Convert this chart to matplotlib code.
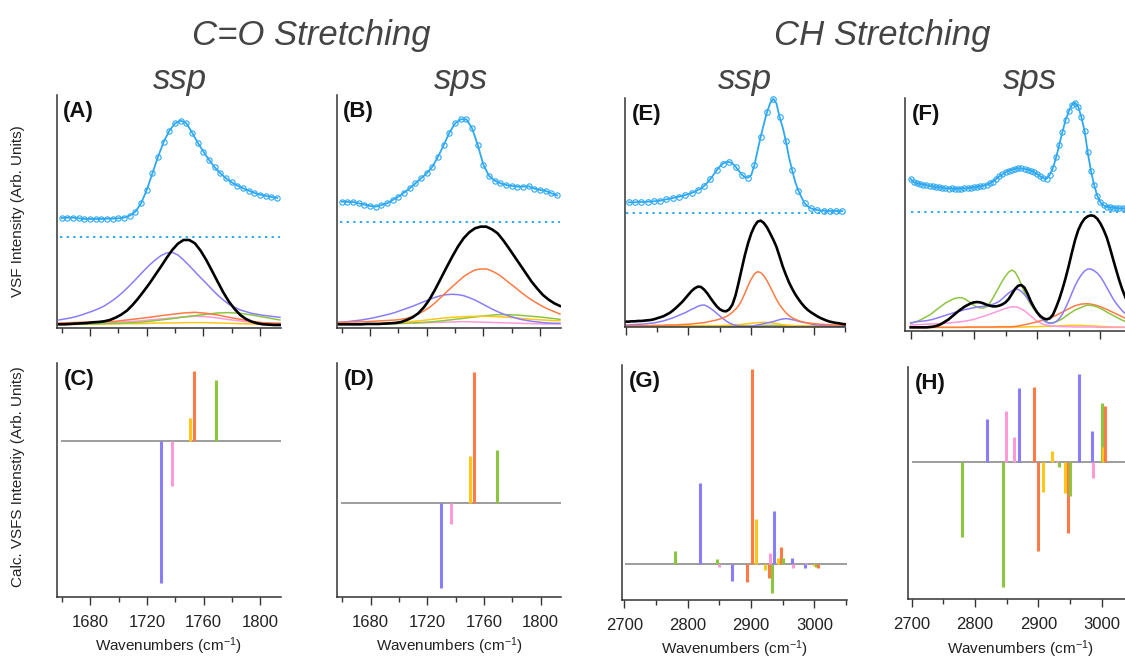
import numpy as np
import matplotlib
matplotlib.use("Agg")
import matplotlib.pyplot as plt

plt.rcParams['font.family'] = ['Liberation Sans', 'DejaVu Sans']
plt.rcParams['mathtext.fontset'] = 'custom'
plt.rcParams['mathtext.rm'] = 'Liberation Sans'
plt.rcParams['mathtext.it'] = 'Liberation Sans:italic'

# ---------------- data (arbitrary units) ----------------
# C=O region, experimental spectra (every 4 cm-1 from 1660 to 1812)
co_data_x = np.arange(1660, 1813, 4)
A_data = [3.31, 3.32, 3.32, 3.30, 3.28, 3.28, 3.28, 3.28, 3.29, 3.29, 3.30, 3.32, 3.38, 3.50,
          3.75, 4.15, 4.65, 5.15, 5.60, 5.93, 6.15, 6.23, 6.15, 5.87, 5.57, 5.30, 5.05, 4.83,
          4.65, 4.50, 4.38, 4.28, 4.20, 4.13, 4.06, 4.01, 3.97, 3.94, 3.91]
B_data = [3.80, 3.79, 3.79, 3.75, 3.71, 3.67, 3.65, 3.70, 3.75, 3.85, 3.95, 4.07, 4.20, 4.35,
          4.50, 4.65, 4.85, 5.15, 5.50, 5.87, 6.15, 6.27, 6.27, 6.00, 5.50, 4.90, 4.57, 4.43,
          4.35, 4.30, 4.27, 4.25, 4.25, 4.26, 4.19, 4.15, 4.12, 4.05, 3.99]
A_offset = 2.75
B_offset = 3.20

# C=O region, fitted components
co_fine_x = np.arange(1658, 1815, 4)          # 40 points
co_comp_x = [1658, 1666, 1674, 1682, 1690, 1698, 1706, 1714, 1722, 1730, 1738, 1746, 1754,
             1762, 1770, 1778, 1786, 1794, 1802, 1810, 1814]
A_black = [0.12, 0.12, 0.13, 0.14, 0.15, 0.16, 0.18, 0.19, 0.21, 0.25, 0.32, 0.41, 0.53, 0.70,
           0.90, 1.12, 1.35, 1.60, 1.85, 2.11, 2.35, 2.54, 2.65, 2.65, 2.55, 2.33, 2.05, 1.73,
           1.40, 1.08, 0.80, 0.58, 0.40, 0.28, 0.20, 0.15, 0.12, 0.11, 0.10, 0.10]
A_purple = [0.25, 0.28, 0.31, 0.35, 0.40, 0.46, 0.52, 0.59, 0.67, 0.78, 0.90, 1.04, 1.20, 1.37,
            1.55, 1.73, 1.90, 2.05, 2.18, 2.26, 2.28, 2.20, 2.05, 1.88, 1.70, 1.52, 1.35, 1.17,
            1.00, 0.85, 0.72, 0.63, 0.55, 0.50, 0.45, 0.42, 0.39, 0.37, 0.35, 0.33]
A_orange = [0.16, 0.17, 0.18, 0.19, 0.20, 0.21, 0.25, 0.29, 0.33, 0.38, 0.42, 0.46, 0.48, 0.45,
            0.40, 0.33, 0.27, 0.21, 0.17, 0.15, 0.15]
A_pink = [0.14, 0.15, 0.15, 0.16, 0.17, 0.18, 0.20, 0.22, 0.25, 0.28, 0.31, 0.34, 0.36, 0.35,
          0.31, 0.26, 0.22, 0.18, 0.16, 0.15, 0.15]
A_green = [0.12, 0.12, 0.13, 0.13, 0.14, 0.15, 0.16, 0.18, 0.21, 0.25, 0.29, 0.34, 0.38, 0.42,
           0.46, 0.47, 0.45, 0.40, 0.34, 0.28, 0.25]
A_yellow = [0.12, 0.12, 0.12, 0.12, 0.13, 0.13, 0.14, 0.14, 0.15, 0.16, 0.16, 0.17, 0.17, 0.17,
            0.16, 0.15, 0.14, 0.13, 0.13, 0.12, 0.12]

B_black = [0.12, 0.12, 0.12, 0.12, 0.12, 0.13, 0.13, 0.13, 0.14, 0.15, 0.16, 0.19, 0.25, 0.33,
           0.45, 0.63, 0.87, 1.17, 1.50, 1.83, 2.15, 2.45, 2.70, 2.88, 3.00, 3.05, 3.05, 2.97,
           2.85, 2.64, 2.40, 2.15, 1.90, 1.65, 1.40, 1.19, 1.00, 0.86, 0.75, 0.67]
B_orange = [0.18, 0.18, 0.19, 0.19, 0.20, 0.20, 0.21, 0.22, 0.23, 0.24, 0.25, 0.27, 0.30, 0.36,
            0.43, 0.52, 0.63, 0.77, 0.93, 1.09, 1.25, 1.40, 1.55, 1.66, 1.75, 1.78, 1.78, 1.72,
            1.63, 1.51, 1.37, 1.24, 1.10, 0.97, 0.85, 0.75, 0.65, 0.57, 0.50, 0.43]
B_purple = [0.18, 0.19, 0.21, 0.23, 0.25, 0.28, 0.31, 0.35, 0.39, 0.43, 0.48, 0.54, 0.60, 0.66,
            0.73, 0.80, 0.87, 0.93, 0.98, 1.01, 1.02, 1.01, 0.98, 0.92, 0.85, 0.76, 0.67, 0.58,
            0.50, 0.43, 0.37, 0.32, 0.27, 0.24, 0.21, 0.19, 0.17, 0.16, 0.15, 0.15]
B_yellow = [0.13, 0.13, 0.14, 0.14, 0.15, 0.17, 0.19, 0.22, 0.26, 0.30, 0.33, 0.35, 0.36, 0.36,
            0.35, 0.33, 0.30, 0.27, 0.25, 0.23, 0.23]
B_green = [0.12, 0.12, 0.12, 0.13, 0.13, 0.14, 0.15, 0.17, 0.19, 0.22, 0.26, 0.30, 0.34, 0.38,
           0.41, 0.41, 0.39, 0.36, 0.33, 0.29, 0.27]
B_pink = [0.12, 0.12, 0.13, 0.13, 0.14, 0.15, 0.15, 0.16, 0.17, 0.18, 0.19, 0.20, 0.19, 0.18,
          0.17, 0.16, 0.15, 0.14, 0.13, 0.13, 0.13]

# CH region, experimental spectra
E_data_x = np.arange(2705, 3046, 5)
E_data = [3.75, 3.75, 3.75, 3.76, 3.76, 3.76, 3.77, 3.77, 3.78, 3.79, 3.80, 3.82, 3.84, 3.86,
          3.88, 3.90, 3.92, 3.94, 3.97, 4.00, 4.03, 4.07, 4.12, 4.17, 4.24, 4.34, 4.45, 4.58,
          4.71, 4.83, 4.91, 4.96, 4.96, 4.92, 4.82, 4.70, 4.58, 4.50, 4.49, 4.57, 4.86, 5.30,
          5.72, 6.10, 6.45, 6.72, 6.86, 6.72, 6.32, 6.00, 5.60, 5.10, 4.72, 4.36, 4.10, 3.90,
          3.72, 3.63, 3.57, 3.54, 3.52, 3.50, 3.50, 3.49, 3.49, 3.49, 3.49, 3.49, 3.49]
F_data_x = np.arange(2700, 3051, 5)
F_data = [4.55, 4.45, 4.42, 4.40, 4.38, 4.37, 4.34, 4.33, 4.30, 4.31, 4.28, 4.27, 4.26, 4.27,
          4.25, 4.26, 4.26, 4.27, 4.28, 4.28, 4.30, 4.31, 4.33, 4.35, 4.37, 4.42, 4.47, 4.55,
          4.63, 4.69, 4.75, 4.80, 4.83, 4.86, 4.87, 4.87, 4.85, 4.83, 4.80, 4.76, 4.70, 4.63,
          4.57, 4.56, 4.68, 4.88, 5.20, 5.58, 5.96, 6.32, 6.58, 6.77, 6.84, 6.72, 6.40, 6.00,
          5.35, 4.80, 4.38, 4.05, 3.85, 3.76, 3.72, 3.70, 3.69, 3.68, 3.67, 3.67, 3.67, 3.67, 3.67]
E_offset = 3.44
F_offset = 3.57

# CH region, fitted components
ch_fine_x = np.arange(2700, 3051, 5)          # 71 points
ch_comp_x = np.arange(2700, 3051, 10)         # 36 points
E_black = [0.17, 0.17, 0.18, 0.18, 0.19, 0.19, 0.20, 0.21, 0.22, 0.24, 0.27, 0.30, 0.33, 0.38,
           0.43, 0.50, 0.58, 0.67, 0.76, 0.87, 0.98, 1.09, 1.17, 1.22, 1.21, 1.13, 1.02, 0.88,
           0.75, 0.63, 0.54, 0.49, 0.48, 0.54, 0.68, 0.96, 1.35, 1.77, 2.18, 2.53, 2.82, 3.03,
           3.17, 3.20, 3.13, 3.00, 2.82, 2.63, 2.42, 2.13, 1.83, 1.58, 1.35, 1.16, 0.99, 0.85,
           0.72, 0.61, 0.52, 0.45, 0.39, 0.33, 0.28, 0.24, 0.20, 0.17, 0.15, 0.13, 0.12, 0.10, 0.09]
E_purple = [0.07, 0.07, 0.08, 0.08, 0.09, 0.09, 0.10, 0.11, 0.12, 0.13, 0.15, 0.17, 0.19, 0.22,
            0.25, 0.28, 0.32, 0.36, 0.40, 0.44, 0.49, 0.54, 0.58, 0.63, 0.66, 0.67, 0.63, 0.57,
            0.50, 0.42, 0.34, 0.26, 0.19, 0.13, 0.09, 0.06, 0.04, 0.03, 0.02, 0.02, 0.03, 0.05,
            0.07, 0.09, 0.11, 0.13, 0.15, 0.17, 0.20, 0.23, 0.25, 0.26, 0.25, 0.23, 0.21, 0.18,
            0.16, 0.14, 0.12, 0.10, 0.08, 0.07, 0.06, 0.05, 0.04, 0.04, 0.03, 0.03, 0.03, 0.02, 0.02]
E_orange = [0.04, 0.04, 0.04, 0.04, 0.05, 0.05, 0.05, 0.05, 0.05, 0.06, 0.06, 0.06, 0.06, 0.07,
            0.07, 0.07, 0.07, 0.08, 0.08, 0.09, 0.09, 0.10, 0.11, 0.12, 0.13, 0.14, 0.16, 0.18,
            0.20, 0.22, 0.25, 0.28, 0.32, 0.38, 0.45, 0.54, 0.65, 0.82, 1.03, 1.25, 1.45, 1.60,
            1.67, 1.64, 1.55, 1.40, 1.22, 1.03, 0.84, 0.68, 0.55, 0.44, 0.35, 0.29, 0.24, 0.20,
            0.17, 0.15, 0.13, 0.12, 0.11, 0.10, 0.09, 0.09, 0.08, 0.08, 0.07, 0.07, 0.06, 0.06, 0.06]
E_yellow = [0.03, 0.03, 0.03, 0.03, 0.03, 0.03, 0.04, 0.04, 0.04, 0.04, 0.04, 0.04, 0.05, 0.05,
            0.05, 0.05, 0.06, 0.07, 0.08, 0.10, 0.12, 0.14, 0.15, 0.14, 0.11, 0.08, 0.06, 0.05,
            0.04, 0.04, 0.03, 0.03, 0.03, 0.03, 0.03, 0.03]
E_green = [0.03, 0.03, 0.03, 0.03, 0.03, 0.03, 0.03, 0.03, 0.03, 0.03, 0.03, 0.03, 0.04, 0.04,
           0.04, 0.04, 0.04, 0.04, 0.04, 0.04, 0.04, 0.04, 0.04, 0.05, 0.05, 0.04, 0.04, 0.04,
           0.04, 0.03, 0.03, 0.03, 0.03, 0.03, 0.03, 0.03]
E_pink = [0.04, 0.04, 0.04, 0.04, 0.04, 0.04, 0.04, 0.04, 0.04, 0.04, 0.04, 0.04, 0.04, 0.04,
          0.04, 0.04, 0.04, 0.04, 0.04, 0.05, 0.05, 0.05, 0.06, 0.06, 0.06, 0.05, 0.05, 0.04,
          0.04, 0.04, 0.04, 0.04, 0.04, 0.04, 0.04, 0.04]

F_black = [0.10, 0.10, 0.10, 0.10, 0.10, 0.10, 0.11, 0.12, 0.14, 0.17, 0.22, 0.28, 0.34, 0.42,
           0.50, 0.58, 0.65, 0.72, 0.77, 0.82, 0.85, 0.86, 0.85, 0.82, 0.78, 0.75, 0.73, 0.73,
           0.75, 0.79, 0.85, 0.95, 1.10, 1.25, 1.35, 1.37, 1.29, 1.10, 0.88, 0.70, 0.55, 0.44,
           0.37, 0.34, 0.37, 0.48, 0.70, 0.95, 1.25, 1.58, 1.95, 2.35, 2.72, 3.02, 3.22, 3.36,
           3.43, 3.46, 3.44, 3.36, 3.22, 3.03, 2.80, 2.49, 2.15, 1.82, 1.50, 1.22, 0.98, 0.78, 0.62]
F_purple = [0.24, 0.25, 0.27, 0.28, 0.29, 0.30, 0.32, 0.34, 0.37, 0.40, 0.43, 0.46, 0.49, 0.52,
            0.55, 0.58, 0.60, 0.63, 0.65, 0.67, 0.69, 0.71, 0.72, 0.73, 0.75, 0.77, 0.79, 0.83,
            0.88, 0.96, 1.05, 1.13, 1.20, 1.24, 1.24, 1.18, 1.08, 0.96, 0.82, 0.67, 0.52, 0.40,
            0.31, 0.25, 0.22, 0.23, 0.27, 0.36, 0.50, 0.69, 0.90, 1.13, 1.35, 1.53, 1.68, 1.79,
            1.85, 1.85, 1.80, 1.73, 1.62, 1.47, 1.30, 1.13, 0.96, 0.82, 0.70, 0.59, 0.50, 0.42, 0.36]
F_green = [0.22, 0.25, 0.28, 0.32, 0.37, 0.42, 0.47, 0.54, 0.62, 0.69, 0.76, 0.83, 0.88, 0.93,
           0.97, 0.99, 0.99, 0.96, 0.90, 0.83, 0.76, 0.71, 0.68, 0.68, 0.72, 0.82, 0.98, 1.15,
           1.32, 1.49, 1.64, 1.76, 1.82, 1.76, 1.60, 1.38, 1.15, 0.95, 0.78, 0.64, 0.52, 0.41,
           0.32, 0.26, 0.23, 0.24, 0.27, 0.31, 0.36, 0.43, 0.50, 0.56, 0.62, 0.66, 0.70, 0.74,
           0.77, 0.76, 0.74, 0.71, 0.67, 0.62, 0.56, 0.51, 0.46, 0.41, 0.36, 0.31, 0.27, 0.23, 0.20]
F_pink = [0.17, 0.18, 0.19, 0.20, 0.21, 0.22, 0.23, 0.25, 0.27, 0.30, 0.34, 0.40, 0.46, 0.53,
          0.60, 0.67, 0.72, 0.70, 0.60, 0.44, 0.28, 0.19, 0.15, 0.13, 0.12, 0.12, 0.11, 0.11,
          0.11, 0.11, 0.10, 0.10, 0.10, 0.10, 0.10, 0.10]
F_orange = [0.10, 0.10, 0.10, 0.10, 0.10, 0.10, 0.10, 0.10, 0.10, 0.11, 0.11, 0.11, 0.11, 0.11,
            0.12, 0.12, 0.12, 0.14, 0.18, 0.22, 0.27, 0.32, 0.38, 0.46, 0.56, 0.66, 0.75, 0.80,
            0.81, 0.78, 0.72, 0.64, 0.55, 0.46, 0.37, 0.30]
F_yellow = [0.10, 0.10, 0.10, 0.10, 0.10, 0.10, 0.10, 0.10, 0.10, 0.10, 0.10, 0.10, 0.10, 0.10,
            0.10, 0.10, 0.10, 0.11, 0.11, 0.12, 0.12, 0.13, 0.13, 0.14, 0.15, 0.16, 0.16, 0.16,
            0.15, 0.14, 0.13, 0.12, 0.11, 0.11, 0.10, 0.10]

# Calculated stick spectra: position (cm-1), amplitude, mode family
C_pos = [1730, 1737.5, 1750.5, 1753, 1769]
C_val = [-4.26, -1.36, 0.67, 2.10, 1.82]
C_mode = ['P', 'K', 'Y', 'O', 'G']

D_pos = [1730, 1737, 1750.5, 1753, 1769]
D_val = [-2.57, -0.65, 1.41, 3.93, 1.58]
D_mode = ['P', 'K', 'Y', 'O', 'G']

G_pos = [2780.5, 2819.5, 2846, 2849.5, 2870, 2893, 2901, 2908.4, 2922, 2928, 2930, 2932.6,
         2937, 2943, 2947, 2950.5, 2964.7, 2966, 2985, 2987, 3000, 3002.6, 3006]
G_val = [0.40, 2.45, 0.16, -0.07, -0.49, -0.52, 5.85, 1.35, -0.17, -0.42, 0.33, -0.87,
         1.61, 0.18, 0.51, 0.18, 0.18, -0.12, -0.12, 0.05, -0.05, -0.07, -0.10]
G_mode = ['G', 'P', 'G', 'K', 'P', 'O', 'O', 'Y', 'Y', 'O', 'K', 'G',
          'P', 'Y', 'O', 'G', 'P', 'K', 'P', 'K', 'Y', 'G', 'O']

H_pos = [2779, 2818.4, 2844.7, 2849, 2862, 2869, 2892.6, 2900, 2908, 2921.6, 2929, 2932,
         2942, 2947, 2949.5, 2964, 2984.7, 2987, 3000, 3002.6, 3006]
H_val = [-2.25, 1.29, -3.75, 1.55, 0.77, 2.24, 2.27, -2.66, -0.90, 0.34, 0.05, -0.13,
         -0.91, -2.13, -1.01, 2.64, 0.95, -0.46, 1.77, 0.45, 1.70]
H_mode = ['G', 'P', 'G', 'K', 'K', 'P', 'O', 'O', 'Y', 'Y', 'K', 'G',
          'Y', 'O', 'G', 'P', 'P', 'K', 'G', 'Y', 'O']

# ---------------- style ----------------
BLUE = '#2ea8f2'
PAL = {'P': '#8a7dfb', 'O': '#ff7a45', 'G': '#8cc63f', 'K': '#ff9ad8', 'Y': '#ffc61a'}
SPINE = '#333333'

W, H = 1125, 660
fig = plt.figure(figsize=(W / 100, H / 100), dpi=100)


def add_ax(x, y_top, w, h):
    return fig.add_axes([x / W, 1 - (y_top + h) / H, w / W, h / H])


def style_axis(ax, xlim, ylim, majors, minors, labels):
    ax.set_xlim(*xlim)
    ax.set_ylim(*ylim)
    for s in ['top', 'right']:
        ax.spines[s].set_visible(False)
    for s in ['left', 'bottom']:
        ax.spines[s].set_color(SPINE)
        ax.spines[s].set_linewidth(1.1)
    ax.set_yticks([])
    ax.set_xticks(majors)
    ax.set_xticks(minors, minor=True)
    ax.tick_params(axis='x', which='major', direction='out', length=6, width=1.0,
                   color=SPINE, labelsize=12, pad=7, labelbottom=labels, labelcolor='#222222')
    ax.tick_params(axis='x', which='minor', direction='out', length=3.5, width=1.0,
                   color=SPINE)
    if labels:
        ax.set_xlabel('Wavenumbers (cm$^{-1}$)', fontsize=11, color='#222222', labelpad=4)


def panel_label(ax, text):
    ax.text(0.03, 0.975, text, transform=ax.transAxes, fontsize=16, fontweight='bold',
            va='top', ha='left', color='#111111')


def top_panel(ax, dx, dy, mevery, ms, offset, comps, bx, black, xr):
    ax.hlines(offset, xr[0], xr[1], colors=BLUE, linestyles=(0, (1.2, 2.2)), lw=1.4)
    for mode, cx, ys in comps:
        ax.plot(cx, ys, color=PAL[mode], lw=1.1)
    ax.plot(bx, black, color='black', lw=1.9)
    ax.plot(dx, dy, color=BLUE, lw=1.3, marker='o', ms=ms, mfc='none', mew=0.8,
            markevery=mevery, clip_on=False)


def stick_panel(ax, pos, val, modes, xr):
    ax.hlines(0, xr[0], xr[1], colors='#8c8c8c', lw=1.2, zorder=1)
    for p, v, m in zip(pos, val, modes):
        ax.vlines(p, 0, v, colors=PAL[m], lw=2.2, zorder=2)


co_maj = [1680, 1720, 1760, 1800]
co_min = [1660, 1700, 1740, 1780]
ch_maj = [2700, 2800, 2900, 3000]
ch_min = [2750, 2850, 2950, 3050]

# Panel A
axA = add_ax(56.5, 95, 224, 233.3)
top_panel(axA, co_data_x, A_data, 1, 3.8, A_offset,
          [('K', co_comp_x, A_pink), ('Y', co_comp_x, A_yellow), ('G', co_comp_x, A_green),
           ('O', co_comp_x, A_orange), ('P', co_fine_x, A_purple)],
          co_fine_x, A_black, (1659, 1814))
style_axis(axA, (1656.3, 1814.4), (0, 7.0), co_maj, co_min, False)
panel_label(axA, '(A)')

# Panel B
axB = add_ax(336.5, 95, 224, 233.3)
top_panel(axB, co_data_x, B_data, 1, 3.8, B_offset,
          [('K', co_comp_x, B_pink), ('G', co_comp_x, B_green), ('Y', co_comp_x, B_yellow),
           ('P', co_fine_x, B_purple), ('O', co_fine_x, B_orange)],
          co_fine_x, B_black, (1659, 1814))
style_axis(axB, (1656.3, 1814.4), (0, 7.0), co_maj, co_min, False)
panel_label(axB, '(B)')

# Panel E
axE = add_ax(625, 98, 220.5, 229.3)
top_panel(axE, E_data_x, E_data, 2, 4.0, E_offset,
          [('K', ch_comp_x, E_pink), ('G', ch_comp_x, E_green), ('Y', ch_comp_x, E_yellow),
           ('P', ch_fine_x, E_purple), ('O', ch_fine_x, E_orange)],
          ch_fine_x, E_black, (2700, 3050))
style_axis(axE, (2699, 3050), (0, 6.88), ch_maj, ch_min, False)
panel_label(axE, '(E)')

# Panel F
axF = add_ax(905, 98, 227, 232.7)
top_panel(axF, F_data_x, F_data, 1, 3.8, F_offset,
          [('Y', ch_comp_x, F_yellow), ('K', ch_comp_x, F_pink), ('O', ch_comp_x, F_orange),
           ('G', ch_fine_x, F_green), ('P', ch_fine_x, F_purple)],
          ch_fine_x, F_black, (2700, 3050))
style_axis(axF, (2691, 3050), (0, 6.98), ch_maj, ch_min, False)
panel_label(axF, '(F)')

# Panel C
axC = add_ax(56.7, 362.7, 224, 234)
stick_panel(axC, C_pos, C_val, C_mode, (1659, 1815))
style_axis(axC, (1656.3, 1814.4), (-4.68, 2.34), co_maj, co_min, True)
panel_label(axC, '(C)')

# Panel D
axD = add_ax(337, 362.7, 224, 234)
stick_panel(axD, D_pos, D_val, D_mode, (1659, 1815))
style_axis(axD, (1656.3, 1814.4), (-2.82, 4.20), co_maj, co_min, True)
panel_label(axD, '(D)')

# Panel G
axG = add_ax(621.7, 365, 225, 235)
stick_panel(axG, G_pos, G_val, G_mode, (2701, 3051))
style_axis(axG, (2696, 3051), (-1.07, 5.98), ch_maj, ch_min, True)
panel_label(axG, '(G)')

# Panel H
axH = add_ax(908.3, 366.7, 225, 232.6)
stick_panel(axH, H_pos, H_val, H_mode, (2700, 3050))
style_axis(axH, (2694.6, 3050), (-4.11, 2.87), ch_maj, ch_min, True)
panel_label(axH, '(H)')


# Titles
def ftext(x, y, s, **kw):
    fig.text(x / W, 1 - y / H, s, **kw)


ftext(311, 36, 'C=O Stretching', fontsize=25, style='italic', color='#444444',
      ha='center', va='center')
ftext(882, 36, 'CH Stretching', fontsize=25, style='italic', color='#444444',
      ha='center', va='center')
for xc, s in [(180, 'ssp'), (461, 'sps'), (745, 'ssp'), (1030, 'sps')]:
    ftext(xc, 80, s, fontsize=25, style='italic', color='#444444', ha='center', va='center')

ftext(18, 211, 'VSF Intensity (Arb. Units)', fontsize=11, rotation=90, color='#222222',
      ha='center', va='center')
ftext(18, 477, 'Calc. VSFS Intenstiy (Arb. Units)', fontsize=11, rotation=90, color='#222222',
      ha='center', va='center')

fig.savefig('out.png', dpi=100)
